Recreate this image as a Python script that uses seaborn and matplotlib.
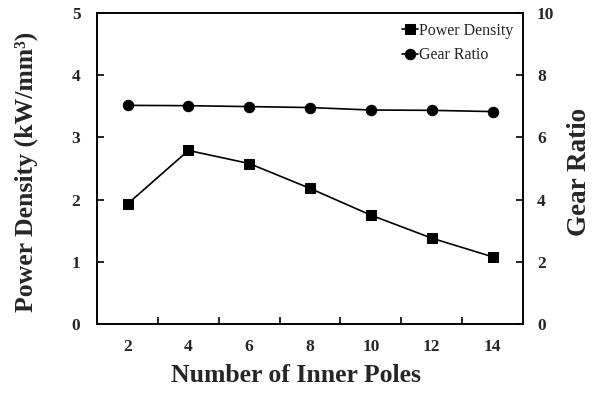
import matplotlib
matplotlib.use("Agg")
import matplotlib.pyplot as plt
import seaborn as sns
import pandas as pd
from matplotlib.ticker import FixedLocator

poles = ["2", "4", "6", "8", "10", "12", "14"]
power_density = [1.93, 2.79, 2.58, 2.18, 1.75, 1.38, 1.08]
gear_ratio = [7.03, 7.02, 6.99, 6.96, 6.88, 6.87, 6.83]

sns.set_theme(style="white")
plt.rcParams['font.family'] = ['Liberation Serif', 'DejaVu Serif']

df = pd.DataFrame({"poles": poles, "pd": power_density, "gr": gear_ratio})

fig = plt.figure(figsize=(5.96, 3.94), dpi=100)
ax = fig.add_axes([0.163, 0.1777, 0.7145, 0.7893])
ax2 = ax.twinx()

sns.lineplot(data=df, x="poles", y="pd", ax=ax, sort=False, color="black",
             marker="s", markersize=7.5, linewidth=1.2, markeredgecolor="black",
             label="Power Density", legend=False)
sns.lineplot(data=df, x="poles", y="gr", ax=ax2, sort=False, color="black",
             marker="o", markersize=7.5, linewidth=1.2, markeredgecolor="black",
             label="Gear Ratio", legend=False)

ax.set_xlim(-0.5, 6.5)
ax.set_ylim(0, 5)
ax2.set_ylim(0, 10)
ax.set_yticks([0, 1, 2, 3, 4, 5])
ax2.set_yticks([0, 2, 4, 6, 8, 10])
ax.set_xticks(range(7))
ax.set_xticklabels(poles)
ax.xaxis.set_minor_locator(FixedLocator([0.5, 1.5, 2.5, 3.5, 4.5, 5.5]))

for a in (ax, ax2):
    for s in a.spines.values():
        s.set_color("black")
        s.set_linewidth(1.2)
    a.grid(False)

ax.tick_params(axis="x", which="major", length=0, pad=11, labelsize=12.5)
ax.tick_params(axis="x", which="minor", direction="in", length=5, width=1.2,
               color="black", bottom=True)
ax.tick_params(axis="y", direction="in", length=5, width=1.2, color="black",
               left=True, pad=12, labelsize=12.5)
ax2.tick_params(axis="y", direction="in", length=5, width=1.2, color="black",
                right=True, pad=10, labelsize=12.5)
for lab in ax.get_xticklabels() + ax.get_yticklabels() + ax2.get_yticklabels():
    lab.set_fontweight("bold")

ax.set_xlabel("Number of Inner Poles", fontsize=18.5, fontweight="bold")
ax.xaxis.set_label_coords(0.467, -0.13)
ax.set_ylabel("Power Density (kW/mm³)", fontsize=18.5, fontweight="bold")
ax.yaxis.set_label_coords(-0.1385, 0.49)
ax2.set_ylabel("Gear Ratio", fontsize=19.5, fontweight="bold")
ax2.yaxis.set_label_coords(1.103, 0.49)

h1, l1 = ax.get_legend_handles_labels()
h2, l2 = ax2.get_legend_handles_labels()
ax2.legend(h1 + h2, l1 + l2, loc="upper right", frameon=False, fontsize=11.5,
           handlelength=1.0, handletextpad=0.1, borderaxespad=0.2,
           labelspacing=0.55)

fig.savefig("out.png", dpi=100)
